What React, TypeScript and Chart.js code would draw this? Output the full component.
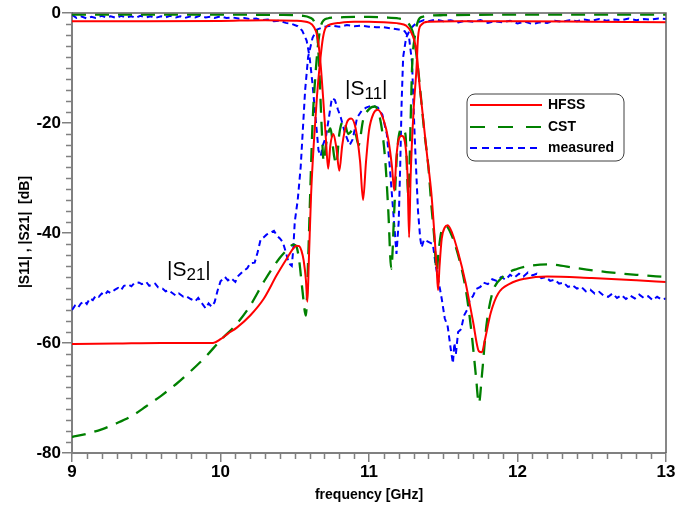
import React, { useEffect, useRef } from "react";
import { Chart, registerables } from "chart.js";
Chart.register(...registerables);

const FONT = '"Liberation Sans", Arial, sans-serif';

// [frequency GHz, dB]
const hfssS21: number[][] = [
  [9, -60.2], [9.3, -60.1], [9.6, -60], [9.9, -60], [9.95, -60], [10.0, -59.3], [10.05, -58.3], [10.11, -57.2],
  [10.2, -55], [10.29, -52], [10.38, -47.6], [10.45, -44.5], [10.49, -42.8], [10.51, -42.3], [10.53, -42.4],
  [10.545, -43.2], [10.56, -45], [10.575, -48.5], [10.585, -52.5], [10.595, -45], [10.61, -33], [10.63, -23],
  [10.65, -15], [10.67, -9], [10.69, -4.5], [10.71, -2.6], [10.75, -2], [10.8, -1.8], [10.9, -1.6], [11.0, -1.6],
  [11.1, -1.7], [11.2, -1.9], [11.25, -2.3], [11.28, -3.3], [11.32, -7], [11.34, -13], [11.36, -18], [11.39, -25.6],
  [11.42, -32.8], [11.44, -40], [11.455, -46], [11.465, -50.4], [11.475, -46], [11.49, -41], [11.51, -39],
  [11.53, -38.6], [11.56, -40], [11.6, -43.5], [11.65, -49], [11.7, -56], [11.74, -61.5], [11.76, -61.7],
  [11.78, -59.5], [11.82, -54.5], [11.87, -51], [11.95, -49.2], [12.05, -48.3], [12.2, -47.9], [12.5, -48.2],
  [12.8, -48.6], [13, -48.9],
];

const hfssS11: number[][] = [
  [9, -1.5], [9.5, -1.5], [10.0, -1.45], [10.3, -1.3], [10.5, -1.4], [10.6, -1.8], [10.63, -2.6], [10.65, -4],
  [10.67, -8], [10.69, -15], [10.71, -23], [10.725, -28.3], [10.74, -24], [10.76, -22], [10.78, -24.5],
  [10.8, -28.7], [10.82, -24], [10.85, -20], [10.88, -19.2], [10.91, -21], [10.94, -27], [10.96, -34],
  [10.98, -27], [11.0, -21.4], [11.03, -18.3], [11.06, -17.6], [11.1, -19.6], [11.13, -23], [11.155, -28],
  [11.17, -32.3], [11.185, -26], [11.2, -23], [11.22, -22.3], [11.245, -24], [11.26, -30], [11.27, -40.8],
  [11.28, -30], [11.3, -17.8], [11.32, -10], [11.33, -4.5], [11.35, -2.2], [11.4, -1.6], [11.6, -1.5],
  [12, -1.5], [12.5, -1.6], [13, -1.7],
];

const cstS21: number[][] = [
  [9, -77.1], [9.1, -76.5], [9.2, -75.7], [9.3, -74.6], [9.4, -73.3], [9.5, -71.5], [9.6, -69.6], [9.7, -67.5],
  [9.8, -65.1], [9.9, -62.5], [10.0, -59.5], [10.1, -56.8], [10.2, -53.2], [10.3, -48.5], [10.4, -44.5],
  [10.45, -43], [10.49, -42.1], [10.51, -42.4], [10.53, -45], [10.55, -50], [10.575, -55], [10.59, -45],
  [10.605, -32], [10.62, -20], [10.64, -11], [10.66, -5], [10.68, -2], [10.72, -1], [10.8, -0.8], [10.9, -0.7],
  [11.0, -0.7], [11.1, -0.8], [11.2, -1], [11.25, -1.5], [11.28, -2.5], [11.3, -4], [11.33, -10], [11.35, -15.4],
  [11.37, -21], [11.4, -28], [11.42, -35], [11.44, -41], [11.455, -47], [11.47, -43], [11.49, -39.5],
  [11.52, -38.8], [11.55, -40], [11.6, -44], [11.65, -50], [11.69, -58], [11.72, -66], [11.74, -71],
  [11.76, -66], [11.79, -57], [11.83, -51], [11.9, -48], [12.0, -46.5], [12.1, -45.9], [12.2, -45.7],
  [12.4, -46.4], [12.6, -47.1], [12.8, -47.6], [13, -48],
];

const cstS11: number[][] = [
  [9, -0.3], [9.5, -0.3], [10.0, -0.3], [10.4, -0.35], [10.55, -0.5], [10.6, -0.8], [10.63, -1.5], [10.65, -3.5],
  [10.665, -10], [10.68, -20], [10.695, -27], [10.71, -24], [10.74, -21], [10.765, -26], [10.78, -27.5],
  [10.8, -22], [10.83, -19.5], [10.86, -22], [10.9, -21], [10.93, -24], [10.96, -19.5], [11.0, -17.5],
  [11.04, -17], [11.08, -20], [11.11, -27], [11.13, -36], [11.15, -46.5], [11.17, -36], [11.19, -25],
  [11.22, -21], [11.245, -22], [11.265, -33], [11.28, -20], [11.29, -10], [11.31, -4], [11.33, -1.5],
  [11.36, -0.7], [11.5, -0.4], [12, -0.3], [13, -0.3],
];

const measS21: number[][] = [
  [9.0, -54.0], [9.02, -53.2], [9.04, -53.6], [9.06, -52.8], [9.085, -52.4], [9.1, -52.9], [9.12, -51.9],
  [9.14, -52.2], [9.16, -51.4], [9.18, -51.6], [9.2, -51.0], [9.22, -51.3], [9.24, -50.6], [9.26, -50.9],
  [9.29, -50.3], [9.31, -50.0], [9.33, -50.4], [9.35, -49.6], [9.38, -49.4], [9.4, -49.7], [9.42, -49.1],
  [9.45, -49.0], [9.47, -49.3], [9.5, -48.9], [9.52, -49.6], [9.54, -49.4], [9.56, -49.2], [9.58, -49.9],
  [9.61, -50.1], [9.63, -50.6], [9.65, -50.4], [9.68, -51.0], [9.7, -51.4], [9.72, -51.0], [9.75, -51.6],
  [9.77, -51.5], [9.8, -52.0], [9.83, -52.4], [9.85, -51.8], [9.87, -52.6], [9.9, -53.7], [9.92, -52.8],
  [9.94, -53.4], [9.96, -52.6], [9.98, -50.5], [10.0, -48.8], [10.03, -48.0], [10.05, -48.6], [10.07, -48.2],
  [10.1, -48.9], [10.12, -47.8], [10.15, -47.0], [10.18, -46.4], [10.2, -45.5], [10.23, -45.4], [10.25, -43.5],
  [10.27, -41.2], [10.29, -40.8], [10.31, -40.3], [10.34, -39.9], [10.36, -39.6], [10.38, -40.5], [10.4, -41.0],
  [10.42, -41.7], [10.44, -43.5], [10.46, -45.5], [10.48, -46.0], [10.49, -43], [10.5, -38], [10.52, -34],
  [10.54, -28], [10.555, -21], [10.57, -14], [10.59, -8], [10.62, -4.5], [10.65, -3.0], [10.7, -2.5],
  [10.75, -2.3], [10.8, -2.5], [10.85, -2.2], [10.9, -2.4], [10.95, -2.3], [11.0, -2.5], [11.05, -2.6],
  [11.1, -2.6], [11.15, -2.8], [11.2, -3.0], [11.24, -3.3], [11.27, -4.5], [11.29, -9], [11.3, -17],
  [11.31, -24], [11.32, -30], [11.33, -36], [11.345, -41], [11.355, -42.6], [11.37, -41.2], [11.4, -41.6],
  [11.43, -42.0], [11.45, -46], [11.47, -49], [11.49, -52], [11.51, -55.5], [11.53, -57], [11.55, -61],
  [11.565, -63.7], [11.575, -60], [11.585, -62], [11.6, -58], [11.62, -57.5], [11.64, -55], [11.66, -54],
  [11.68, -52], [11.7, -51.5], [11.72, -50.2], [11.75, -49.8], [11.77, -49.0], [11.8, -49.3], [11.83, -48.4],
  [11.86, -48.7], [11.89, -48.0], [11.92, -48.5], [11.95, -47.6], [11.98, -48.1], [12.01, -47.4], [12.04, -47.9],
  [12.07, -47.2], [12.1, -47.7], [12.13, -47.4], [12.16, -48.2], [12.19, -48.0], [12.22, -48.7], [12.25, -48.5],
  [12.28, -49.2], [12.31, -49.0], [12.34, -49.8], [12.37, -49.5], [12.4, -50.1], [12.43, -49.8], [12.46, -50.6],
  [12.49, -50.3], [12.52, -51.0], [12.55, -50.7], [12.58, -51.4], [12.61, -51.6], [12.64, -51.0], [12.67, -51.8],
  [12.7, -51.3], [12.73, -52.0], [12.76, -51.4], [12.79, -51.9], [12.82, -51.2], [12.85, -51.8], [12.88, -51.5],
  [12.91, -52.2], [12.94, -51.6], [12.97, -52.1], [13.0, -51.9],
];

const measS11: number[][] = [
  [9.0, -0.3], [9.03, -0.9], [9.06, -0.6], [9.1, -1.0], [9.13, -0.7], [9.16, -0.9], [9.2, -0.5], [9.23, -0.8],
  [9.26, -0.6], [9.3, -0.9], [9.33, -0.5], [9.36, -0.8], [9.4, -0.6], [9.43, -0.9], [9.46, -0.5], [9.5, -0.8],
  [9.53, -0.6], [9.56, -0.9], [9.6, -0.6], [9.63, -0.8], [9.66, -0.5], [9.7, -0.8], [9.73, -0.6], [9.76, -0.9],
  [9.8, -0.6], [9.83, -0.8], [9.86, -0.5], [9.9, -0.8], [9.93, -0.7], [9.96, -0.9], [10.0, -0.6], [10.04, -0.9],
  [10.08, -0.8], [10.12, -1.0], [10.16, -0.9], [10.2, -1.1], [10.24, -1.0], [10.28, -1.3], [10.32, -1.2],
  [10.36, -1.5], [10.4, -1.4], [10.44, -1.8], [10.48, -2.0], [10.52, -2.4], [10.55, -3.2], [10.58, -5],
  [10.6, -8], [10.62, -13], [10.64, -19], [10.66, -25], [10.675, -26], [10.69, -24], [10.71, -22.5],
  [10.73, -19], [10.75, -15.5], [10.77, -15.8], [10.79, -17.5], [10.81, -19], [10.84, -22], [10.87, -24],
  [10.89, -23], [10.92, -19], [10.95, -17.8], [10.98, -17.2], [11.02, -16.8], [11.06, -17.2], [11.09, -18.5],
  [11.12, -22], [11.14, -28], [11.16, -35], [11.185, -43.8], [11.2, -38], [11.21, -28], [11.22, -16],
  [11.23, -8], [11.25, -4.5], [11.28, -2.8], [11.32, -1.8], [11.37, -1.3], [11.4, -1.5], [11.45, -1.2],
  [11.5, -1.5], [11.55, -1.3], [11.6, -1.7], [11.65, -1.4], [11.7, -1.6], [11.75, -1.3], [11.8, -1.8],
  [11.85, -1.5], [11.9, -1.7], [11.95, -1.4], [12.0, -1.9], [12.05, -1.6], [12.1, -2.0], [12.15, -1.7],
  [12.2, -1.8], [12.25, -1.4], [12.3, -1.6], [12.35, -1.3], [12.4, -1.5], [12.45, -1.2], [12.5, -1.4],
  [12.55, -1.1], [12.6, -1.4], [12.65, -1.2], [12.7, -1.3], [12.75, -1.0], [12.8, -1.3], [12.85, -1.1],
  [12.9, -1.2], [12.95, -1.0], [13.0, -1.1],
];

const xTickValues = [9, 10, 11, 12, 13];
const yTickValues = [0, -20, -40, -60, -80];
const legendLabels = ["HFSS", "CST", "measured"];

const RED = "#ff0000";
const GREEN = "#008000";
const BLUE = "#0000ff";
const AXIS = "#808080";

const pts = (a: number[][]) => a.map(([x, y]) => ({ x, y }));

export default function App() {
  const ref = useRef<HTMLCanvasElement>(null);

  useEffect(() => {
    document.body.style.margin = "0";
    const canvas = ref.current!;

    const overlay = {
      id: "overlay",
      afterDraw(chart: any) {
        const ctx = chart.ctx as CanvasRenderingContext2D;
        const { left, right, top, bottom } = chart.chartArea;
        const xs = chart.scales.x;
        const ys = chart.scales.y;
        ctx.save();
        // frame top/right
        ctx.strokeStyle = "#606060";
        ctx.lineWidth = 1.5;
        ctx.beginPath();
        ctx.moveTo(left, top);
        ctx.lineTo(right, top);
        ctx.lineTo(right, bottom);
        ctx.stroke();
        // minor ticks
        ctx.strokeStyle = AXIS;
        ctx.lineWidth = 1.5;
        ctx.beginPath();
        for (let v = 0; v >= -80; v -= 2) {
          if (v % 20 === 0) continue;
          const py = Math.round(ys.getPixelForValue(v)) + 0.5;
          ctx.moveTo(left - 6, py);
          ctx.lineTo(left, py);
        }
        for (let i = 0; i <= 40; i++) {
          if (i % 10 === 0) continue;
          const px = Math.round(xs.getPixelForValue(9 + i / 10)) + 0.5;
          ctx.moveTo(px, bottom);
          ctx.lineTo(px, bottom + 6);
        }
        ctx.stroke();

        // annotations
        const drawS = (x: number, y: number, sub: string) => {
          ctx.fillStyle = "#000";
          ctx.textBaseline = "alphabetic";
          ctx.textAlign = "left";
          ctx.font = `21px ${FONT}`;
          ctx.fillText("|S", x, y);
          let w = ctx.measureText("|S").width;
          ctx.font = `17px ${FONT}`;
          ctx.fillText(sub, x + w, y + 4);
          w += ctx.measureText(sub).width;
          ctx.font = `21px ${FONT}`;
          ctx.fillText("|", x + w, y);
        };
        drawS(345, 95, "11");
        drawS(167, 276, "21");

        // axis titles
        ctx.fillStyle = "#000";
        ctx.font = `bold 14px ${FONT}`;
        ctx.textAlign = "center";
        ctx.textBaseline = "middle";
        ctx.fillText("frequency [GHz]", (left + right) / 2, 495);
        ctx.save();
        ctx.translate(25, 232);
        ctx.rotate(-Math.PI / 2);
        ctx.fillText("|S11| , |S21|  [dB]", 0, 0);
        ctx.restore();

        // legend
        const bx = 467, by = 94, bw = 157, bh = 67, r = 8;
        ctx.beginPath();
        ctx.moveTo(bx + r, by);
        ctx.lineTo(bx + bw - r, by);
        ctx.arcTo(bx + bw, by, bx + bw, by + r, r);
        ctx.lineTo(bx + bw, by + bh - r);
        ctx.arcTo(bx + bw, by + bh, bx + bw - r, by + bh, r);
        ctx.lineTo(bx + r, by + bh);
        ctx.arcTo(bx, by + bh, bx, by + bh - r, r);
        ctx.lineTo(bx, by + r);
        ctx.arcTo(bx, by, bx + r, by, r);
        ctx.closePath();
        ctx.fillStyle = "#fff";
        ctx.fill();
        ctx.strokeStyle = "#404040";
        ctx.lineWidth = 1;
        ctx.stroke();
        const rows = [
          { c: RED, d: [] as number[], y: 105 },
          { c: GREEN, d: [15, 13], y: 127 },
          { c: BLUE, d: [7, 5], y: 148 },
        ];
        rows.forEach((row, i) => {
          ctx.strokeStyle = row.c;
          ctx.lineWidth = 2;
          ctx.setLineDash(row.d);
          ctx.beginPath();
          ctx.moveTo(470, row.y);
          ctx.lineTo(542, row.y);
          ctx.stroke();
          ctx.setLineDash([]);
          ctx.fillStyle = "#000";
          ctx.font = `bold 14px ${FONT}`;
          ctx.textAlign = "left";
          ctx.textBaseline = "middle";
          ctx.fillText(legendLabels[i], 548, row.y);
        });
        ctx.restore();
      },
    };

    const mk = (label: string, data: number[][], color: string, dash: number[], width: number, smooth: boolean, order: number) => ({
      label,
      data: pts(data),
      borderColor: color,
      backgroundColor: color,
      borderWidth: width,
      borderDash: dash,
      pointRadius: 0,
      fill: false,
      order,
      cubicInterpolationMode: smooth ? ("monotone" as const) : ("default" as const),
      tension: 0,
    });

    const chart = new Chart(canvas, {
      type: "line",
      data: {
        datasets: [
          mk("measured", measS21, BLUE, [6, 4], 2, false, 3),
          mk("measured", measS11, BLUE, [6, 4], 2, false, 3),
          mk("CST", cstS21, GREEN, [14, 9], 2.3, true, 2),
          mk("CST", cstS11, GREEN, [14, 9], 2.3, true, 2),
          mk("HFSS", hfssS21, RED, [], 2, true, 1),
          mk("HFSS", hfssS11, RED, [], 2, true, 1),
        ],
      },
      options: {
        responsive: false,
        animation: false,
        layout: { padding: { top: 13, right: 14, left: 0, bottom: 0 } },
        plugins: { legend: { display: false }, tooltip: { enabled: false } },
        scales: {
          x: {
            type: "linear",
            min: 9,
            max: 13,
            afterBuildTicks: (s: any) => {
              s.ticks = xTickValues.map((v) => ({ value: v }));
            },
            afterFit: (s: any) => {
              s.height = 56;
            },
            grid: { display: true, drawOnChartArea: false, drawTicks: true, tickLength: 9, color: AXIS, lineWidth: 1.5 },
            border: { display: true, color: AXIS, width: 2 },
            ticks: { color: "#000", font: { family: FONT, size: 17, weight: "bold" }, padding: 0, maxRotation: 0 },
          },
          y: {
            type: "linear",
            min: -80,
            max: 0,
            afterBuildTicks: (s: any) => {
              s.ticks = yTickValues.map((v) => ({ value: v }));
            },
            afterFit: (s: any) => {
              s.width = 72;
            },
            grid: { display: true, drawOnChartArea: false, drawTicks: true, tickLength: 10, color: AXIS, lineWidth: 1.5 },
            border: { display: true, color: AXIS, width: 2 },
            ticks: { color: "#000", font: { family: FONT, size: 17, weight: "bold" }, padding: 1 },
          },
        },
      },
      plugins: [overlay],
    });
    return () => chart.destroy();
  }, []);

  return (
    <div style={{ width: 680, height: 509 }}>
      <canvas ref={ref} width={680} height={509} style={{ display: "block" }} />
    </div>
  );
}
